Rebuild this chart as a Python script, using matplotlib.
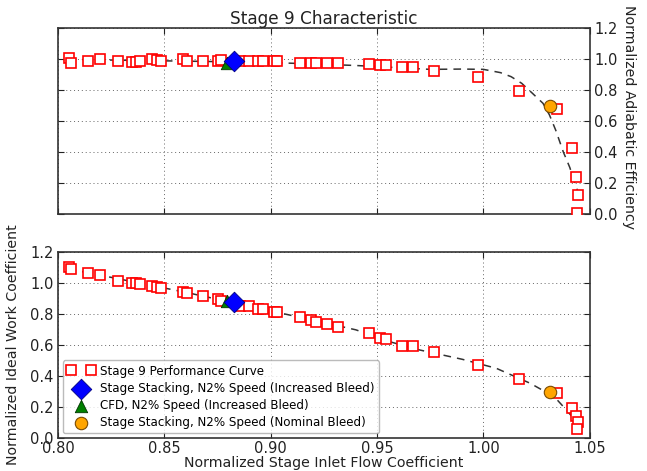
import matplotlib
matplotlib.use("Agg")
import matplotlib.pyplot as plt

# Stage 9 performance curve: inlet flow coefficient, efficiency, work coefficient
phi = [0.8053, 0.8060, 0.8142, 0.8197, 0.8280, 0.8350, 0.8367, 0.8385, 0.8443, 0.8464,
       0.8484, 0.8589, 0.8605, 0.8680, 0.8753, 0.8765, 0.8855, 0.8897, 0.8941, 0.8965,
       0.9015, 0.9030, 0.9137, 0.9189, 0.9211, 0.9263, 0.9317, 0.9463, 0.9516, 0.9544,
       0.9615, 0.9670, 0.9768, 0.9975, 1.0166, 1.0346, 1.0418, 1.0437, 1.0446, 1.0440]
eff = [1.008, 0.972, 0.989, 0.998, 0.985, 0.978, 0.982, 0.990, 0.998, 0.992,
       0.990, 0.998, 0.990, 0.985, 0.990, 0.993, 0.985, 0.985, 0.985, 0.985,
       0.987, 0.987, 0.975, 0.975, 0.972, 0.972, 0.972, 0.966, 0.958, 0.958,
       0.947, 0.947, 0.925, 0.882, 0.794, 0.677, 0.424, 0.241, 0.123, 0.008]
psi = [1.105, 1.090, 1.066, 1.050, 1.015, 0.998, 1.000, 0.994, 0.981, 0.974,
       0.970, 0.944, 0.937, 0.916, 0.895, 0.886, 0.852, 0.852, 0.835, 0.835,
       0.815, 0.811, 0.779, 0.760, 0.751, 0.736, 0.719, 0.676, 0.647, 0.639,
       0.591, 0.596, 0.553, 0.473, 0.383, 0.288, 0.191, 0.144, 0.101, 0.058]

# Fitted characteristic curves (dashed)
fit_phi_eff = [0.805, 0.830, 0.860, 0.880, 0.900, 0.920, 0.940, 0.960, 0.975, 0.990,
               1.000, 1.008, 1.013, 1.018, 1.023, 1.028, 1.031, 1.034, 1.0375, 1.0406,
               1.043, 1.0445]
fit_eff = [0.998, 0.992, 0.986, 0.982, 0.977, 0.968, 0.958, 0.944, 0.933, 0.935,
           0.933, 0.912, 0.886, 0.843, 0.779, 0.714, 0.640, 0.540, 0.402, 0.300,
           0.198, 0.140]
fit_phi_psi = [0.805, 0.820, 0.840, 0.860, 0.880, 0.900, 0.920, 0.940, 0.956, 0.970,
               0.990, 1.006, 1.022, 1.029, 1.034, 1.039, 1.043]
fit_psi = [1.090, 1.050, 0.995, 0.940, 0.880, 0.820, 0.760, 0.698, 0.621, 0.568,
           0.508, 0.450, 0.353, 0.299, 0.256, 0.181, 0.116]

# Single operating points: (flow, efficiency, work)
stack_inc = (0.8829, 0.989, 0.876)
cfd_inc = (0.8793, 0.976, 0.884)
stack_nom = (1.0312, 0.697, 0.297)

labels = ["Stage 9 Performance Curve",
          "Stage Stacking, N2% Speed (Increased Bleed)",
          "CFD, N2% Speed (Increased Bleed)",
          "Stage Stacking, N2% Speed (Nominal Bleed)"]
xticks = [0.80, 0.85, 0.90, 0.95, 1.00, 1.05]
yticks = [0.0, 0.2, 0.4, 0.6, 0.8, 1.0, 1.2]

plt.rcParams['font.family'] = ['DejaVu Sans']
fig = plt.figure(figsize=(6.47, 4.71), dpi=100)
ax1 = fig.add_axes([0.0896, 0.5456, 0.822, 0.395])
ax2 = fig.add_axes([0.0896, 0.0700, 0.822, 0.395])

sq = dict(marker='s', linestyle='none', markersize=7.5, markerfacecolor='white',
          markeredgecolor='red', markeredgewidth=1.2)

def draw(ax, yvals, fx, fy, idx):
    ax.plot(fx, fy, linestyle=(0, (5, 4)), color='#333333', linewidth=1.1, zorder=2)
    ax.plot(phi, yvals, label=labels[0], zorder=3, **sq)
    ax.scatter([stack_inc[0]], [stack_inc[idx]], marker='D', s=110, color='blue',
               edgecolor='#000080', linewidth=0.6, zorder=5, label=labels[1])
    ax.scatter([cfd_inc[0]], [cfd_inc[idx]], marker='^', s=80, color='green',
               edgecolor='#003300', linewidth=0.6, zorder=4, label=labels[2])
    ax.scatter([stack_nom[0]], [stack_nom[idx]], marker='o', s=80, color='orange',
               edgecolor='#7a4a00', linewidth=0.8, zorder=5, label=labels[3])
    ax.set_xlim(0.80, 1.05)
    ax.set_ylim(0.0, 1.2)
    ax.set_xticks(xticks)
    ax.set_yticks(yticks)
    ax.grid(True, linestyle=(0, (1, 3)), color='#666666', linewidth=0.7)
    ax.tick_params(direction='in', length=4, labelsize=10.5, colors='#222222',
                   top=True, right=True, pad=3)
    for s in ax.spines.values():
        s.set_color('#333333')
        s.set_linewidth(1.2)

draw(ax1, eff, fit_phi_eff, fit_eff, 1)
draw(ax2, psi, fit_phi_psi, fit_psi, 2)

ax1.set_xticklabels([])
ax1.yaxis.tick_right()
ax1.tick_params(left=True, right=True, labelleft=False, labelright=True)
ax1.yaxis.set_label_position('right')
ax1.set_ylabel("Normalized Adiabatic Efficiency", rotation=270, fontsize=10.2,
               color='#222222', va='center')
ax1.yaxis.set_label_coords(1.073, 0.52)
ax1.set_title("Stage 9 Characteristic", fontsize=12.2, color='#222222', pad=3)

ax2.set_xticklabels(["0.80", "0.85", "0.90", "0.95", "1.00", "1.05"])
ax2.tick_params(axis='x', pad=2)
ax2.set_xlabel("Normalized Stage Inlet Flow Coefficient", fontsize=10.2,
               color='#222222', labelpad=0)
ax2.set_ylabel("Normalized Ideal Work Coefficient", fontsize=10.2, color='#222222',
               va='center')
ax2.yaxis.set_label_coords(-0.085, 0.5)

leg = ax2.legend(loc='lower left', numpoints=2, scatterpoints=1, fontsize=8.6,
                 frameon=True, fancybox=True, borderpad=0.35, labelspacing=0.35,
                 handlelength=2.3, handletextpad=0.5, borderaxespad=0.4)
leg.get_frame().set_edgecolor('#aaaaaa')
leg.get_frame().set_linewidth(1.0)

fig.savefig("out.png", dpi=100)
